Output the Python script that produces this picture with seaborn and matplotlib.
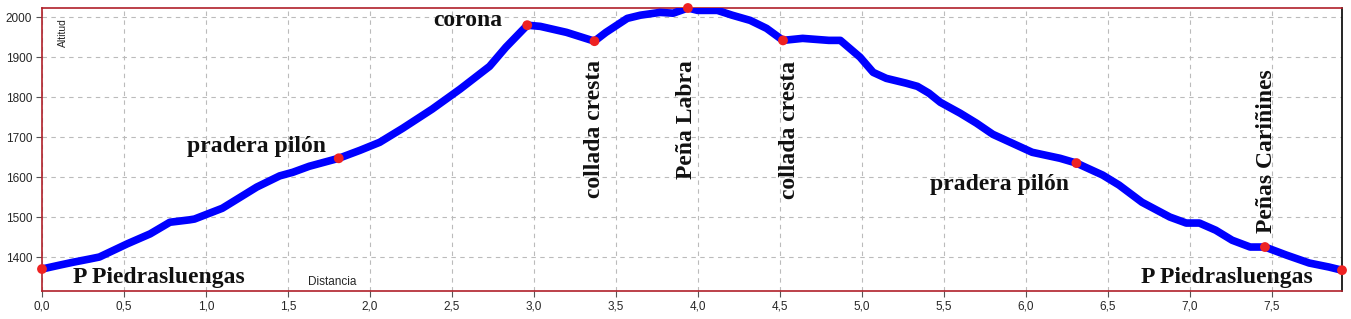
import matplotlib
matplotlib.use("Agg")
import matplotlib.pyplot as plt
import seaborn as sns
import pandas as pd

# Profile data (km, m)
distance = [0.00, 0.11, 0.19, 0.29, 0.35, 0.52, 0.66, 0.78, 0.90, 0.93, 1.10, 1.31,
            1.45, 1.53, 1.63, 1.81, 1.94, 2.06, 2.20, 2.38, 2.55, 2.73, 2.83, 2.96,
            3.04, 3.20, 3.37, 3.44, 3.57, 3.65, 3.77, 3.85, 3.94, 4.00, 4.12, 4.21,
            4.32, 4.42, 4.52, 4.64, 4.80, 4.87, 4.99, 5.07, 5.15, 5.27, 5.34, 5.41,
            5.48, 5.60, 5.70, 5.80, 5.88, 6.04, 6.21, 6.31, 6.47, 6.57, 6.71, 6.88,
            6.98, 7.06, 7.16, 7.26, 7.37, 7.46, 7.59, 7.73, 7.85, 7.93]
altitude = [1370, 1380, 1387, 1395, 1400, 1433, 1458, 1487, 1493, 1495, 1522, 1575,
            1603, 1612, 1627, 1647, 1667, 1687, 1722, 1770, 1820, 1877, 1925, 1980,
            1977, 1962, 1940, 1962, 1997, 2005, 2012, 2010, 2023, 2017, 2017, 2005,
            1992, 1972, 1942, 1947, 1942, 1942, 1900, 1862, 1847, 1835, 1827, 1810,
            1787, 1760, 1735, 1707, 1692, 1662, 1647, 1635, 1605, 1580, 1537, 1500,
            1485, 1485, 1467, 1442, 1425, 1425, 1405, 1385, 1375, 1367]

# Waypoints
wp_x = [0.00, 1.81, 2.96, 3.37, 3.94, 4.52, 6.31, 7.46, 7.93]
wp_y = [1370, 1647, 1980, 1940, 2023, 1942, 1635, 1425, 1367]

# Labels: text, x, y, rotation
label_text = ["P Piedrasluengas", "pradera pilón", "corona", "collada cresta", "Peña Labra",
              "collada cresta", "pradera pilón", "Peñas Cariñines", "P Piedrasluengas"]
label_x = [0.71, 1.31, 2.60, 3.37, 3.93, 4.56, 5.84, 7.47, 7.23]
label_y = [1350, 1677, 1992, 1720, 1745, 1717, 1582, 1665, 1350]
label_rot = [0, 0, 0, 90, 90, 90, 0, 90, 0]

x_ticks = [0.0, 0.5, 1.0, 1.5, 2.0, 2.5, 3.0, 3.5, 4.0, 4.5, 5.0, 5.5, 6.0, 6.5, 7.0, 7.5]
y_ticks = [1400, 1500, 1600, 1700, 1800, 1900, 2000]

sns.set_style("white")
plt.rcParams['font.family'] = ['Liberation Sans', 'DejaVu Sans']

fig = plt.figure(figsize=(13.51, 3.19), dpi=100)
ax = fig.add_axes([42/1351, 1 - 291/319, 1300/1351, 283/319])

df = pd.DataFrame({"d": distance, "a": altitude})
sns.lineplot(data=df, x="d", y="a", ax=ax, color="#0000FF", linewidth=5.5,
             sort=False, estimator=None, solid_capstyle="round", zorder=3)
wp = pd.DataFrame({"x": wp_x, "y": wp_y})
sns.scatterplot(data=wp, x="x", y="y", ax=ax, color="#EE2222", s=50,
                edgecolor="none", zorder=4, clip_on=False)

ax.set_xlim(0, 7.93)
ax.set_ylim(1315, 2023)
ax.set_xticks(x_ticks)
ax.set_xticklabels([f"{v:.1f}".replace(".", ",") for v in x_ticks])
ax.set_yticks(y_ticks)
ax.set_yticklabels([str(v) for v in y_ticks])
ax.set_xlabel("")
ax.set_ylabel("")
ax.tick_params(axis="both", labelsize=8.5, length=4, width=0.8, color="#555555",
               direction="out", pad=3, left=True, bottom=True)
ax.grid(True, color="#BBBBBB", linestyle=(0, (4, 4)), linewidth=0.8)
ax.set_axisbelow(True)

for side in ["left", "bottom", "top"]:
    ax.spines[side].set_color("#B0202A")
    ax.spines[side].set_linewidth(1.2)
ax.spines["right"].set_color("#000000")
ax.spines["right"].set_linewidth(1.2)

for t, x, y, r in zip(label_text, label_x, label_y, label_rot):
    ax.text(x, y, t, rotation=r, ha="center", va="center", fontsize=17,
            fontweight="bold", family=["Liberation Serif", "DejaVu Serif"],
            color="#111111", zorder=5)

ax.text(0.012, 0.965, "Altitud", transform=ax.transAxes, rotation=90,
        ha="left", va="top", fontsize=7.5)
ax.text(1.77, 1338, "Distancia", ha="center", va="center", fontsize=8.5)

fig.savefig("out.png", dpi=100)
